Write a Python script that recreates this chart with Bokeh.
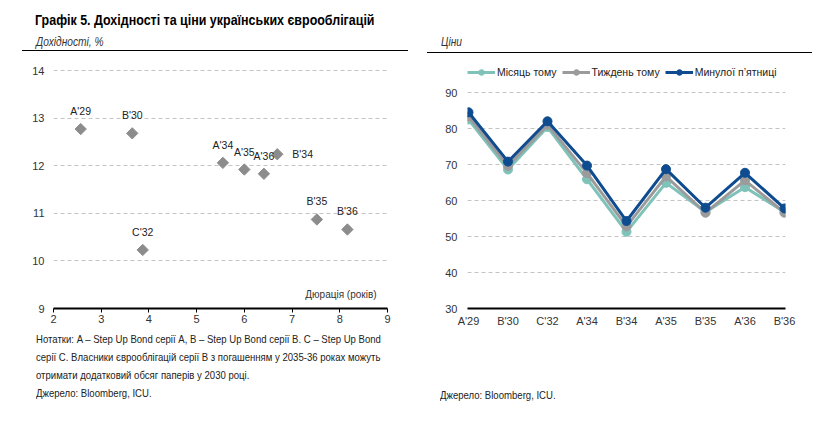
import math

from bokeh.core.properties import value
from bokeh.embed import file_html
from bokeh.layouts import column, row
from bokeh.models import ColumnDataSource, Div, FixedTicker, Label, Legend, LegendItem, Range1d
from bokeh.plotting import figure
from bokeh.resources import INLINE

FONT = "Liberation Sans"

# Yield (%) against modified duration (years)
yield_bonds = ["A'29", "B'30", "C'32", "A'34", "A'35", "A'36", "B'34", "B'35", "B'36"]
duration_years = [2.57, 3.65, 3.87, 5.55, 6.00, 6.41, 6.69, 7.52, 8.16]
yield_pct = [12.77, 12.68, 10.23, 12.06, 11.92, 11.83, 12.24, 10.87, 10.66]

# Prices by bond at three dates
price_bonds = ["A'29", "B'30", "C'32", "A'34", "B'34", "A'35", "B'35", "A'36", "B'36"]
price_month_ago = [82.5, 68.6, 80.4, 65.9, 51.3, 64.9, 56.8, 63.7, 56.8]
price_week_ago = [83.3, 69.6, 81.0, 67.6, 52.8, 66.7, 56.6, 65.6, 56.6]
price_last_friday = [84.5, 70.8, 82.0, 69.7, 54.3, 68.7, 58.0, 67.7, 57.8]

series_names = ["Місяць тому", "Тиждень тому", "Минулої п’ятниці"]
series_colors = ["#7fc2b9", "#9b9b9b", "#0f4c8f"]

yield_ticks = [9, 10, 11, 12, 13, 14]
duration_ticks = [2, 3, 4, 5, 6, 7, 8, 9]
price_ticks = [30, 40, 50, 60, 70, 80, 90]

title_text = "Графік 5. Дохідності та ціни українських єврооблігацій"
left_caption = "Дохідності, %"
right_caption = "Ціни"
notes_lines = [
    "Нотатки: A – Step Up Bond серії A, B – Step Up Bond серії B. C – Step Up Bond",
    "серії C. Власники єврооблігацій серії B з погашенням у 2035-36 роках можуть",
    "отримати додатковий обсяг паперів у 2030 році.",
    "Джерело: Bloomberg, ICU.",
]
source_text = "Джерело: Bloomberg, ICU."

W, HEAD_H, CHART_H = 821, 62, 272
NOTES_H = 430 - HEAD_H - CHART_H
TOP_B, BOTTOM_B = 2, 26           # shared frame borders of both charts
FRAME_H = CHART_H - TOP_B - BOTTOM_B


def narrow(text, left, top, size, extra="", squeeze=0.87):
    """Absolutely placed, horizontally condensed text block."""
    return (f'<div style="position:absolute;left:{left}px;top:{top}px;font-size:{size}px;'
            f'white-space:nowrap;transform:scaleX({squeeze});transform-origin:0 0;{extra}">{text}</div>')


def rule(left, top, width):
    return (f'<div style="position:absolute;left:{left}px;top:{top}px;width:{width}px;'
            f'height:0;border-top:1.5px solid #000;"></div>')


box = (f'<div style="position:relative;width:{W}px;height:{{h}}px;margin:0;padding:0;'
       f"font-family:'{FONT}',Arial,sans-serif;color:#222;\">{{body}}</div>")

header_html = box.format(h=HEAD_H, body="".join([
    narrow(title_text, 35, 12, 14, "font-weight:bold;color:#000;line-height:16px;", 0.89),
    narrow(left_caption, 36, 34, 12, "font-style:italic;color:#333;line-height:16px;", 0.85),
    narrow(right_caption, 441, 34, 12, "font-style:italic;color:#333;line-height:16px;", 0.85),
    rule(22, 50, 386),
    rule(427, 52, 385),
]))

notes_html = box.format(h=NOTES_H, body="".join(
    [narrow(t, 36, 18 * i, 11, "line-height:10px;") for i, t in enumerate(notes_lines)]
    + [narrow(source_text, 440, 56, 11, "line-height:10px;")]
))

header = Div(text=header_html, width=W, height=HEAD_H, margin=(0, 0, 0, 0))
notes = Div(text=notes_html, width=W, height=NOTES_H, margin=(0, 0, 0, 0))


def style_axis(ax, size="11px"):
    ax.major_label_text_font = FONT
    ax.major_label_text_font_size = size
    ax.major_label_text_color = "#333333"
    ax.minor_tick_line_color = None


def style_grid(p):
    p.xgrid.visible = False
    p.ygrid.grid_line_color = "#c4c4c4"
    p.ygrid.grid_line_dash = "4 3"
    p.ygrid.grid_line_width = 1


# ---------- yields vs duration ----------
yl = figure(width=415, height=CHART_H, x_range=Range1d(2, 9),
            y_range=Range1d(9, 9 + FRAME_H / 47.6),
            toolbar_location=None, output_backend="svg",
            min_border_left=53, min_border_right=28, min_border_top=TOP_B,
            min_border_bottom=BOTTOM_B, outline_line_color=None)
style_grid(yl)
yl.yaxis.ticker = FixedTicker(ticks=yield_ticks)
yl.yaxis.axis_line_color = None
yl.yaxis.major_tick_line_color = None
yl.yaxis.major_label_standoff = 3
yl.xaxis.ticker = FixedTicker(ticks=duration_ticks)
yl.xaxis.axis_line_color = "#000000"
yl.xaxis.axis_line_width = 2
yl.xaxis.major_tick_line_color = "#000000"
yl.xaxis.major_tick_out = 4
yl.xaxis.major_tick_in = 0
yl.xaxis.major_label_standoff = 2
style_axis(yl.xaxis)
style_axis(yl.yaxis)

label_dx = [0 if b != "B'34" else 15 for b in yield_bonds]
label_dy = [-18 if b != "B'34" else 0 for b in yield_bonds]
label_align = ["center" if b != "B'34" else "left" for b in yield_bonds]
ysrc = ColumnDataSource(dict(x=duration_years, y=yield_pct, name=yield_bonds,
                             dx=label_dx, dy=label_dy, align=label_align))
yl.scatter("x", "y", source=ysrc, marker="square", angle=math.pi / 4, size=8,
           fill_color="#8c8c8c", line_color="#8c8c8c")
yl.text("x", "y", text="name", source=ysrc, x_offset="dx", y_offset="dy",
        text_align="align", text_baseline="middle", text_font=value(FONT),
        text_font_size="10.5px", text_color="#222222")
yl.add_layout(Label(x=8.77, y=9.3, text="Дюрація (років)", text_font=FONT,
                    text_font_size="10px", text_color="#333333", text_align="right",
                    text_baseline="middle"))

# ---------- prices ----------
pr = figure(width=406, height=CHART_H, x_range=Range1d(-0.025, 8.025),
            y_range=Range1d(30, 30 + FRAME_H / 3.6),
            toolbar_location=None, output_backend="svg",
            min_border_left=52, min_border_right=36, min_border_top=TOP_B,
            min_border_bottom=BOTTOM_B, outline_line_color=None)
style_grid(pr)
pr.yaxis.ticker = FixedTicker(ticks=price_ticks)
pr.yaxis.axis_line_color = None
pr.yaxis.major_tick_line_color = None
pr.yaxis.major_label_standoff = 4
pr.xaxis.ticker = FixedTicker(ticks=list(range(len(price_bonds))))
pr.xaxis.major_label_overrides = {i: b for i, b in enumerate(price_bonds)}
pr.xaxis.axis_line_color = "#000000"
pr.xaxis.axis_line_width = 2
pr.xaxis.major_tick_line_color = None
pr.xaxis.major_label_standoff = 0
style_axis(pr.xaxis)
style_axis(pr.yaxis)

xs = list(range(len(price_bonds)))
items = []
for name, vals, col in zip(series_names, [price_month_ago, price_week_ago, price_last_friday],
                           series_colors):
    ln = pr.line(xs, vals, line_color=col, line_width=3)
    dots = pr.scatter(xs, vals, marker="circle", size=9, fill_color=col, line_color=col)
    items.append(LegendItem(label=name, renderers=[ln, dots]))

legend = Legend(items=items, orientation="horizontal", location=(0, FRAME_H - 15),
                glyph_width=28, glyph_height=14, label_standoff=2, spacing=5,
                padding=0, margin=0, border_line_color=None, background_fill_alpha=0,
                label_text_font=FONT, label_text_font_size="10.5px",
                label_text_color="#222222", label_height=14)
pr.add_layout(legend, "center")

layout = column(header, row(yl, pr), notes)

with open("out.html", "w") as f:
    f.write(file_html(layout, INLINE))
